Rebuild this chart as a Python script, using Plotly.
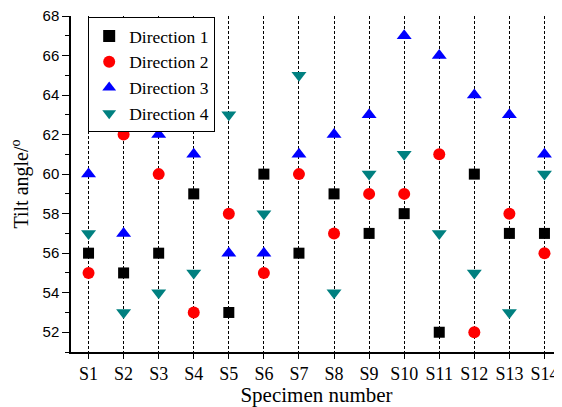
import plotly.graph_objects as go

specimens = ["S1", "S2", "S3", "S4", "S5", "S6", "S7", "S8", "S9", "S10", "S11", "S12", "S13", "S14"]
x_pos = list(range(1, 15))
direction1 = [56, 55, 56, 59, 53, 60, 56, 59, 57, 58, 52, 60, 57, 57]
direction2 = [55, 62, 60, 53, 58, 55, 60, 57, 59, 59, 61, 52, 58, 56]
direction3 = [60, 57, 62, 61, 56, 56, 61, 62, 63, 67, 66, 64, 63, 61]
direction4 = [57, 53, 54, 55, 63, 58, 65, 54, 60, 61, 57, 55, 53, 60]

series = [
    ("Direction 1", direction1, "square", "#000000", 11),
    ("Direction 2", direction2, "circle", "#FF0000", 12),
    ("Direction 3", direction3, "triangle-up", "#0000FF", 13),
    ("Direction 4", direction4, "triangle-down", "#008080", 13),
]

fig = go.Figure()
for name, vals, sym, col, sz in series:
    fig.add_trace(go.Scatter(
        x=x_pos, y=vals, mode="markers", name=name,
        marker=dict(symbol=sym, color=col, size=sz, line=dict(width=0)),
    ))

serif = "Liberation Serif"
sans = "Liberation Sans"
fig.update_layout(
    width=554, height=399,
    margin=dict(l=63, r=0, t=8, b=55, autoexpand=False),
    paper_bgcolor="white", plot_bgcolor="white",
    font=dict(family=serif, color="black"),
    legend=dict(
        x=0.035, y=0.997, xanchor="left", yanchor="top",
        bordercolor="black", borderwidth=1, bgcolor="white",
        font=dict(family=serif, size=17.5, color="black"),
        tracegroupgap=0, itemsizing="constant",
    ),
    xaxis=dict(
        range=[0.5, 14.5], tickmode="array", tickvals=x_pos, ticktext=specimens,
        showline=True, linecolor="black", linewidth=1.5, mirror=False,
        ticks="outside", ticklen=5, tickcolor="black", tickwidth=1,
        showgrid=True, gridcolor="black", griddash="3px,2px", gridwidth=1,
        zeroline=False, automargin=False,
        tickfont=dict(family=serif, size=18, color="black"),
        title=dict(text="Specimen number", font=dict(family=serif, size=21, color="black")),
    ),
    yaxis=dict(
        range=[51, 68], tickmode="array", tickvals=[52, 54, 56, 58, 60, 62, 64, 66, 68],
        showline=True, linecolor="black", linewidth=1.5,
        ticks="outside", ticklen=7, tickcolor="black", tickwidth=1,
        minor=dict(tickvals=[51, 53, 55, 57, 59, 61, 63, 65, 67], ticks="outside", ticklen=4, tickcolor="black"),
        showgrid=False, zeroline=False, automargin=False, ticklabeloverflow="allow",
        tickfont=dict(family=sans, size=15, color="black"),
        title=dict(text="Tilt angle/<sup>o</sup>", font=dict(family=serif, size=20, color="black")),
    ),
)

fig.write_html("out.html")
